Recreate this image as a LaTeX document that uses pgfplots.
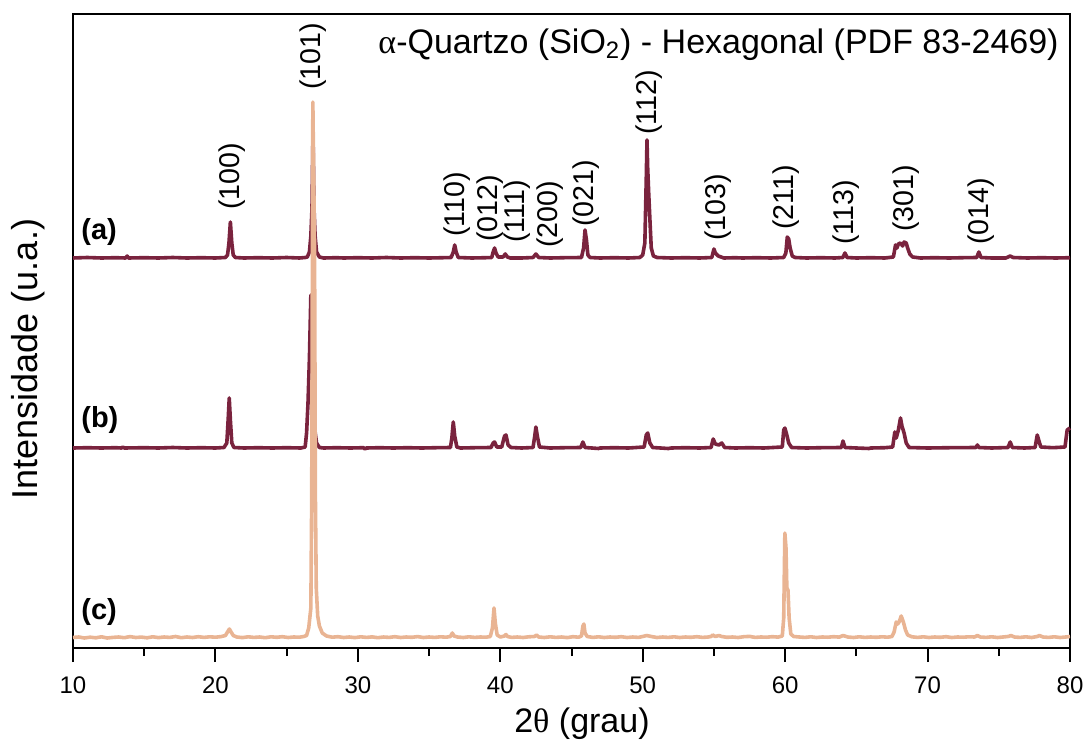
\documentclass[border=0pt]{standalone}
\usepackage{pgfplots}
\pgfplotsset{compat=1.18}
\usepackage{fontspec}
\setmainfont{Liberation Sans}
\newfontfamily\greekf{Liberation Serif}
\usetikzlibrary{calc}
\definecolor{vinho}{RGB}{122,35,62}
\definecolor{pessego}{RGB}{233,180,147}

% Difratogramas: (a), (b) e (c), deslocados verticalmente (unidades arbitrarias)
\pgfplotstableread{
x y
10.0 390
11.0 390.5
12.0 390
13.0 390.3
13.7 390
13.8 392
13.9 390
15.0 390.3
16.0 390
17.0 390.5
18.0 390
19.0 390.3
20.0 390
20.7 390.5
20.85 393
20.95 405
21.05 426
21.15 405
21.25 393
21.4 390.5
22.0 390
23.0 390.3
24.0 390
25.0 390.5
25.9 390
26.3 390.5
26.45 391
26.6 396
26.7 412
26.78 440
26.85 517
26.92 440
27.0 412
27.1 396
27.3 391
27.6 390
28.5 390.3
29.0 390
30.0 390.3
31.0 390
32.0 390.5
33.0 390
34.0 390.3
35.0 390
36.0 390.3
36.55 390.5
36.7 396
36.8 403
36.9 396
37.05 390.5
38.0 390
39.0 390.3
39.4 390.5
39.5 396
39.6 400
39.7 395
39.85 391
40.2 391
40.35 394
40.5 391
40.7 390
41.5 390
42.3 390.5
42.5 394
42.7 390.5
43.5 390
44.5 390.3
45.7 390.5
45.85 400
45.95 418
46.05 408
46.15 393
46.3 390.5
47.0 390
48.0 390.3
49.0 390
49.8 390.5
50.0 393
50.15 405
50.25 470
50.3 508
50.35 480
50.42 455
50.5 430
50.6 400
50.75 392
51.0 390.5
52.0 390
53.0 390.3
54.0 390
54.85 390.5
55.0 399
55.1 395
55.3 392
55.5 391
55.7 390
56.5 390.3
57.0 390
58.0 390.3
59.0 390
59.9 390.5
60.05 395
60.15 411
60.25 409
60.35 400
60.5 392
60.7 390.5
61.5 390
62.5 390.3
63.5 390
64.05 390.5
64.2 395
64.35 390.5
65.0 390
66.0 390.3
67.0 390
67.6 391
67.75 403
67.85 400
67.95 404
68.1 405
68.25 402
68.35 406
68.5 405
68.6 400
68.75 394
68.95 391
69.5 390
70.5 390.3
71.5 390
72.5 390.3
73.45 390.5
73.6 396
73.75 390.5
74.5 390
75.5 390
75.8 392
76.0 390.5
77.0 390
78.0 390.3
79.0 390
80.0 390.3
}\amostraA

\pgfplotstableread{
x y
10.0 200
11.0 200.3
12.0 200
13.0 200.3
13.4 200
13.5 201
13.6 200
15.0 200.3
16.0 200
17.0 200.5
18.0 200
19.0 200.3
20.0 200
20.6 200.5
20.8 205
20.9 230
20.97 250
21.05 228
21.15 205
21.3 200.5
22.0 200
23.0 200.3
24.0 200
25.0 200.3
26.0 200
26.3 201
26.4 215
26.5 245
26.6 290
26.7 353
26.78 330
26.85 270
26.92 230
27.0 216
27.1 205
27.3 200.5
27.6 200
28.5 200.3
29.5 200
30.4 200.3
30.5 199
30.6 200
31.5 200.3
32.5 200
33.5 200.3
34.5 200
35.5 200.3
36.5 200.5
36.6 210
36.7 226
36.8 212
36.95 201
37.2 200
38.2 200.3
39.35 200.5
39.5 205
39.6 206
39.75 201
40.1 201
40.3 212
40.4 213
40.55 203
40.75 200.5
41.5 200
42.3 200.5
42.42 212
42.5 221
42.6 212
42.75 201
43.5 200
44.5 200.3
45.65 200.5
45.8 206
45.95 200.5
46.9 199.5
47.0 200
48.0 200.3
49.0 200
50.1 201
50.25 213
50.35 215
50.5 205
50.7 200.5
51.8 199.5
52.0 200
53.0 200.3
54.0 200
54.8 200.5
54.95 209
55.1 204
55.35 203
55.55 205
55.75 200.5
56.5 200
57.5 200.3
58.5 200
59.8 201
59.9 218
59.98 220
60.1 214
60.25 205
60.45 200.5
61.5 200
62.5 200.3
63.95 200.5
64.06 207
64.2 200.5
65.0 200
65.9 199.5
66.0 200
67.0 200.3
67.55 201
67.7 216
67.8 210
67.95 218
68.1 230
68.2 222
68.35 215
68.5 205
68.7 200.5
70.0 200
71.5 200.3
73.4 200.5
73.5 203
73.6 200.5
74.5 200
75.65 200.5
75.8 206
75.95 200.5
76.8 200
77.55 200.5
77.7 213
77.8 208
77.95 201
78.8 200.3
79.65 201
79.8 218
80.0 220
}\amostraB

\pgfplotstableread{
x y
10.0 10.5
10.4 11
10.8 10
11.2 10.8
11.6 10.2
12.0 11.2
12.4 10
12.8 10.6
13.2 11
13.6 10.3
14.0 11.4
14.4 10.5
14.8 10.9
15.2 10.2
15.6 11.2
16.0 10.4
16.4 11
16.8 10.6
17.2 11.5
17.6 10.3
18.0 11
18.4 10.5
18.8 11.3
19.2 10.6
19.6 11.2
20.0 10.8
20.4 11.4
20.7 12.5
20.85 16
20.98 19
21.1 16
21.25 12.5
21.5 11
21.9 10.4
22.3 11.2
22.7 10.6
23.1 11
23.5 10.3
23.9 11.2
24.3 10.7
24.7 11.3
25.1 10.5
25.5 11
25.9 10.8
26.2 11.5
26.4 12.5
26.55 20
26.7 40
26.76 150
26.84 546
26.96 400
27.02 150
27.08 60
27.18 32
27.3 22
27.5 15
27.8 12
28.2 10.8
28.6 11.3
29.0 10.5
29.4 11
29.8 10.4
30.2 11.2
30.6 10.6
31.0 11.1
31.4 10.3
31.8 11
32.2 10.6
32.6 11.3
33.0 10.5
33.4 11
33.8 10.7
34.2 11.4
34.6 10.5
35.0 11
35.4 10.6
35.8 11.2
36.2 10.8
36.5 11.5
36.63 15
36.75 12
37.0 11
37.4 10.5
37.8 11.2
38.2 10.6
38.6 11
39.0 10.8
39.3 11.5
39.45 20
39.56 40
39.65 25
39.78 13
40.0 11
40.3 12
40.4 13.5
40.5 11.5
40.8 10.6
41.2 11
41.6 10.5
42.0 11.2
42.4 11.5
42.55 13
42.7 11
43.1 10.5
43.5 11.2
43.9 10.6
44.3 11
44.7 10.4
45.1 11.3
45.5 10.8
45.7 12
45.8 22
45.87 24
45.95 15
46.1 11.5
46.5 10.6
46.9 11.2
47.3 10.5
47.7 11
48.1 10.7
48.5 11.3
48.9 10.5
49.3 11
49.7 10.6
50.0 11.5
50.28 12.5
50.6 11.5
51.0 10.5
51.4 11
51.8 10.6
52.2 11.2
52.6 10.5
53.0 11
53.4 10.7
53.8 11.3
54.2 10.6
54.6 11
54.8 11.5
54.92 13
55.1 11.5
55.35 12.5
55.55 11.5
55.9 10.7
56.3 11
56.7 10.5
57.1 11.3
57.5 11.6
57.9 10.6
58.3 11
58.7 10.8
59.1 11.3
59.5 10.9
59.8 12
59.9 30
59.98 115
60.06 100
60.12 60
60.2 58
60.28 30
60.4 14
60.6 11.5
61.0 11
61.4 10.6
61.8 11.2
62.2 10.5
62.6 11
63.0 10.8
63.4 11.3
63.8 10.9
64.07 12.5
64.4 11
64.8 10.5
65.2 11.2
65.6 10.6
66.0 11
66.4 10.7
66.8 11.2
67.2 10.8
67.5 11.5
67.65 16
67.8 26
67.9 24
68.0 26
68.15 32
68.3 26
68.45 18
68.6 13
68.9 11.2
69.3 10.6
69.7 11.2
70.1 10.5
70.5 11
70.9 10.7
71.3 11.3
71.7 10.5
72.1 11
72.5 10.8
72.9 11.2
73.3 11
73.5 12.5
73.7 11
74.1 10.6
74.5 11.2
74.9 10.5
75.3 11
75.7 11.6
75.85 12.5
76.1 11
76.5 10.6
76.9 11.2
77.3 10.5
77.7 11.5
77.85 12.5
78.1 11
78.5 10.6
78.9 11.2
79.3 10.5
79.7 11
80.0 11.5
}\amostraC

\begin{document}
\begin{tikzpicture}
\begin{axis}[
  scale only axis,
  width=498.5pt, height=317pt,
  xmin=10, xmax=80, ymin=0, ymax=634,
  xtick={10,20,...,80},
  minor x tick num=1,
  ytick=\empty,
  xtick pos=bottom,
  tick align=outside,
  major tick length=7pt,
  minor tick length=4pt,
  xtick style={black, line width=1pt},
  axis line style={line width=1.3pt},
  /pgf/number format/assume math mode=true,
  tick label style={font=\fontsize{12}{14}\selectfont},
  xticklabel style={yshift=-4pt},
  xlabel={2{\greekf θ} (grau)},
  ylabel={Intensidade (u.a.)},
  label style={font=\fontsize{17}{20}\selectfont},
  xlabel style={at={(axis description cs:0.5105,-0.1202)}, anchor=center},
  ylabel style={at={(axis description cs:-0.0451,0.4558)}, anchor=center, font=\fontsize{18}{21}\selectfont},
  clip=false,
  every axis plot/.append style={line width=1.8pt, line join=round, no markers},
]
\addplot[vinho] table {\amostraA};
\addplot[vinho] table {\amostraB};
\addplot[pessego] table {\amostraC};

% identificacao das amostras
\node[anchor=west, inner sep=0, font=\fontsize{14.5}{17}\selectfont\bfseries] at (axis cs:10.56,416) {(a)};
\node[anchor=west, inner sep=0, font=\fontsize{14.5}{17}\selectfont\bfseries] at (axis cs:10.56,228) {(b)};
\node[anchor=west, inner sep=0, font=\fontsize{14.5}{17}\selectfont\bfseries] at (axis cs:10.56,36) {(c)};

% indices de Miller
\tikzset{hkl/.style={rotate=90, anchor=west, inner sep=0, font=\fontsize{14.3}{17}\selectfont}}
\node[hkl] at (axis cs:21.16,438) {(100)};
\node[hkl] at (axis cs:26.85,558) {(101)};
\node[hkl] at (axis cs:37.0,411) {(110)};
\node[hkl] at (axis cs:39.28,406) {(012)};
\node[hkl] at (axis cs:41.17,405) {(111)};
\node[hkl] at (axis cs:43.49,400) {(200)};
\node[hkl] at (axis cs:46.02,421) {(021)};
\node[hkl] at (axis cs:50.48,513) {(112)};
\node[hkl] at (axis cs:55.29,407) {(103)};
\node[hkl] at (axis cs:60.06,418) {(211)};
\node[hkl] at (axis cs:64.27,403) {(113)};
\node[hkl] at (axis cs:68.49,416) {(301)};
\node[hkl] at (axis cs:73.75,403) {(014)};

\node[anchor=base east, inner sep=0, font=\fontsize{17}{20}\selectfont] at (axis cs:79.23,594.7) {{\greekf α}-Quartzo (SiO\textsubscript{2}) - Hexagonal (PDF 83-2469)};
\end{axis}
\pgfresetboundingbox
\path ($(current axis.south west)+(-36.5pt,-46pt)$) rectangle ($(current axis.north east)+(9pt,7pt)$);
\end{tikzpicture}
\end{document}
